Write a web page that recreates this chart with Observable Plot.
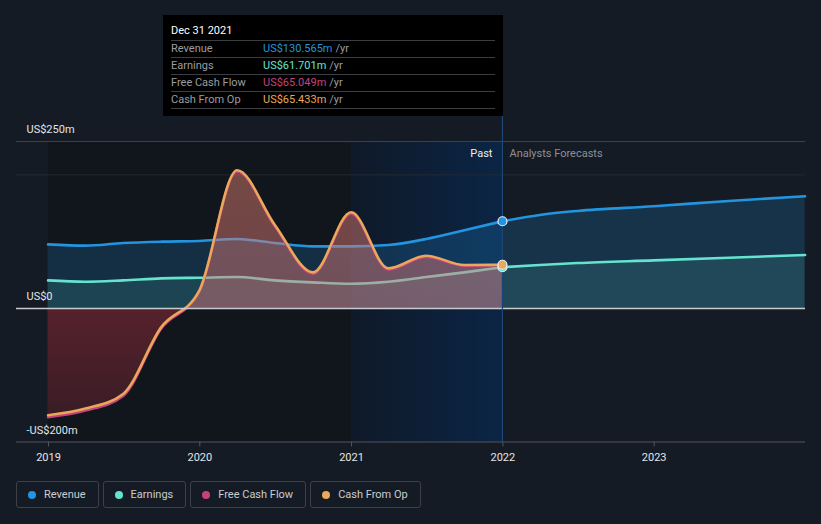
<!DOCTYPE html>
<html>
<head>
<meta charset="utf-8">
<script src="https://cdn.jsdelivr.net/npm/d3@7"></script>
<script src="https://cdn.jsdelivr.net/npm/@observablehq/plot@0.6"></script>
<style>
  html, body { margin: 0; padding: 0; background: #151b24; }
  #wrap { position: relative; width: 821px; height: 524px; font-family: Roboto, "Open Sans", sans-serif; overflow: hidden; }
  #chart { position: absolute; left: 0; top: 0; }
  #tip { position: absolute; left: 163px; top: 15px; width: 340px; height: 101px; background: #000; box-sizing: border-box; padding: 9px 8px 0 8px; font-size: 11px; }
  #tip .title { color: #fff; height: 16px; line-height: 14px; border-bottom: 1px solid #3a3d42; }
  #tip .row { height: 16px; line-height: 16px; border-bottom: 1px solid #3a3d42; color: #9a9da2; display: flex; }
  #tip .row .lab { width: 92px; }
  #tip .row .unit { color: #9a9da2; margin-left: 3px; }
  #legend { position: absolute; left: 16px; top: 481px; display: flex; gap: 4px; }
  .item { height: 27px; border: 1px solid #3b4049; border-radius: 3px; box-sizing: border-box; display: flex; align-items: center; padding: 0 12px 0 11px; color: #c9ccd1; font-size: 11px; }
  .item .dot { width: 8px; height: 8px; border-radius: 50%; margin-right: 8px; }
</style>
</head>
<body>
<div id="wrap">
  <div id="chart"></div>
  <div id="tip"></div>
  <div id="legend"></div>
</div>
<script>
// ---- data ----
const pastDates = ["2018-12-31","2019-03-31","2019-06-30","2019-09-30","2019-12-31","2020-03-31","2020-06-30","2020-09-30","2020-12-31","2021-03-31","2021-06-30","2021-09-30","2021-12-31"];
const revenuePast  = [96, 94, 98, 100, 101, 104, 98, 93, 93, 95, 104, 117, 130.565];
const earningsPast = [42, 40, 42, 45, 46, 47, 42, 39, 37, 40, 47, 54, 61.701];
const fcfPast      = [-163, -153, -131, -30, 25, 205, 123, 52, 142, 58, 77, 64, 65.049];
const cfoPast      = [-160, -150, -128, -28, 27, 207, 125, 54, 144, 60, 79, 65, 65.433];

const fcstDates = ["2021-12-31","2022-03-31","2022-06-30","2022-12-31","2023-06-30","2023-12-31"];
const revenueFcst  = [130.565, 140, 146, 153, 161, 168];
const earningsFcst = [61.701, 65, 68, 72, 76, 80];

const yTicks = [250, 0, -200];
const yTickLabels = ["US$250m", "US$0", "-US$200m"];
const xTicks = ["2019-01-01","2020-01-01","2021-01-01","2022-01-01","2023-01-01"];

const seriesNames = ["Revenue", "Earnings", "Free Cash Flow", "Cash From Op"];
const seriesColors = ["#2394df", "#64e3cf", "#c8407e", "#e9a85a"];
const tipTitle = "Dec 31 2021";
const tipValues = ["US$130.565m", "US$61.701m", "US$65.049m", "US$65.433m"];

// ---- tables ----
const P = d3.utcParse("%Y-%m-%d");
const mk = (dates, vals) => dates.map((d, i) => ({date: P(d), value: vals[i]}));
const revenue = mk(pastDates, revenuePast).concat(mk(fcstDates, revenueFcst).slice(1));
const revenueP = mk(pastDates, revenuePast);
const revenueF = mk(fcstDates, revenueFcst);
const earnings = mk(pastDates, earningsPast).concat(mk(fcstDates, earningsFcst).slice(1));
const earningsP = mk(pastDates, earningsPast);
const earningsF = mk(fcstDates, earningsFcst);
const fcf = mk(pastDates, fcfPast);
const cfo = mk(pastDates, cfoPast);
const last = P(pastDates[pastDates.length - 1]);
const dots = [
  {date: last, value: revenuePast.at(-1), c: seriesColors[0]},
  {date: last, value: earningsPast.at(-1), c: seriesColors[1]},
  {date: last, value: cfoPast.at(-1), c: seriesColors[3]}
];
const yLab = yTicks.map((v, i) => ({v, t: yTickLabels[i]}));

const start = P("2019-01-01"), mid = P("2021-01-01"), end = P("2024-01-01");
const curve = "monotone-x";

const svg = Plot.plot({
  width: 821,
  height: 470,
  marginTop: 141,
  marginBottom: 28.5,
  marginLeft: 16,
  marginRight: 16,
  style: {background: "transparent", fontFamily: "Roboto, sans-serif", fontSize: "11px", color: "#d8dadd"},
  x: {type: "utc", domain: [start, end], range: [48, 805]},
  y: {domain: [-200, 250], axis: null},
  marks: [
    Plot.rect([{}], {x1: start, x2: mid, y1: -200, y2: 250, fill: "#11151c"}),
    Plot.rect([{}], {x1: mid, x2: last, y1: -200, y2: 250, fill: "url(#pastGrad)"}),
    Plot.ruleY([250], {stroke: "#3b4049", strokeWidth: 1}),
    Plot.ruleY([200], {stroke: "#242a33", strokeWidth: 1}),
    Plot.ruleY([-200], {stroke: "#50555e", strokeWidth: 1}),
    Plot.areaY(revenue, {x: "date", y: "value", fill: seriesColors[0], fillOpacity: 0.2, curve}),
    Plot.areaY(earnings, {x: "date", y: "value", fill: seriesColors[1], fillOpacity: 0.12, curve}),
    Plot.lineY(revenueP, {x: "date", y: "value", stroke: seriesColors[0], strokeWidth: 2.6, curve}),
    Plot.lineY(revenueF, {x: "date", y: "value", stroke: seriesColors[0], strokeWidth: 2.6, curve}),
    Plot.lineY(earningsP, {x: "date", y: "value", stroke: seriesColors[1], strokeWidth: 2.6, curve}),
    Plot.lineY(earningsF, {x: "date", y: "value", stroke: seriesColors[1], strokeWidth: 2.6, curve}),
    Plot.areaY(fcf, {x: "date", y: "value", fill: "url(#fcfGrad)", curve}),
    Plot.areaY(cfo, {x: "date", y: "value", fill: "url(#cfoGrad)", curve}),
    Plot.lineY(fcf, {x: "date", y: "value", stroke: seriesColors[2], strokeWidth: 2.6, curve}),
    Plot.lineY(cfo, {x: "date", y: "value", stroke: seriesColors[3], strokeWidth: 2.6, curve}),
    Plot.ruleY([0], {stroke: "#c9cbcf", strokeWidth: 1.4}),
    Plot.ruleX([last], {y1: -200, y2: 290, stroke: "#1d4676", strokeWidth: 1.2}),
    Plot.dot(dots, {x: "date", y: "value", r: 4.5, fill: "c", stroke: "#e8edf3", strokeWidth: 1.2}),
    Plot.text(yLab, {y: "v", text: "t", frameAnchor: "left", dx: 10, dy: -12, textAnchor: "start", fill: "#e3e5e8", fontSize: 11}),
    Plot.text([{}], {x: last, y: 250, text: () => "Past", dx: -10, dy: 12, textAnchor: "end", fill: "#eceef0", fontSize: 11}),
    Plot.text([{}], {x: last, y: 250, text: () => "Analysts Forecasts", dx: 7, dy: 12, textAnchor: "start", fill: "#8c9099", fontSize: 11}),
    Plot.axisX(xTicks.map(P), {tickFormat: "%Y", tickSize: 5, tickPadding: 6, stroke: "#50555e", fill: "#e3e5e8", fontSize: 11, label: null})
  ]
});

const defs = d3.select(svg).insert("defs", ":first-child");
const pg = defs.append("linearGradient").attr("id", "pastGrad").attr("x1", 0).attr("x2", 1).attr("y1", 0).attr("y2", 0);
pg.append("stop").attr("offset", 0).attr("stop-color", "#0f1928");
pg.append("stop").attr("offset", 1).attr("stop-color", "#0b2545");
const fg = defs.append("linearGradient").attr("id", "fcfGrad").attr("gradientUnits", "userSpaceOnUse").attr("x1", 0).attr("x2", 0).attr("y1", 141).attr("y2", 441);
fg.append("stop").attr("offset", 0).attr("stop-color", "#c84450").attr("stop-opacity", 0.3);
fg.append("stop").attr("offset", 0.557).attr("stop-color", "#d03848").attr("stop-opacity", 0.36);
fg.append("stop").attr("offset", 1).attr("stop-color", "#d03848").attr("stop-opacity", 0.18);
const cg = defs.append("linearGradient").attr("id", "cfoGrad").attr("gradientUnits", "userSpaceOnUse").attr("x1", 0).attr("x2", 0).attr("y1", 141).attr("y2", 441);
cg.append("stop").attr("offset", 0).attr("stop-color", "#e8b07c").attr("stop-opacity", 0.28);
cg.append("stop").attr("offset", 0.557).attr("stop-color", "#e8d0c0").attr("stop-opacity", 0.18);
cg.append("stop").attr("offset", 0.56).attr("stop-color", "#e8a87c").attr("stop-opacity", 0);
cg.append("stop").attr("offset", 1).attr("stop-color", "#e8a87c").attr("stop-opacity", 0);

document.getElementById("chart").appendChild(svg);

// tooltip
const tip = d3.select("#tip");
tip.append("div").attr("class", "title").text(tipTitle);
seriesNames.forEach((n, i) => {
  const r = tip.append("div").attr("class", "row");
  r.append("span").attr("class", "lab").text(n);
  r.append("span").style("color", seriesColors[i]).text(tipValues[i]);
  r.append("span").attr("class", "unit").text("/yr");
});

// legend
const lg = d3.select("#legend");
seriesNames.forEach((n, i) => {
  const it = lg.append("div").attr("class", "item");
  it.append("span").attr("class", "dot").style("background", seriesColors[i]);
  it.append("span").text(n);
});
</script>
</body>
</html>
